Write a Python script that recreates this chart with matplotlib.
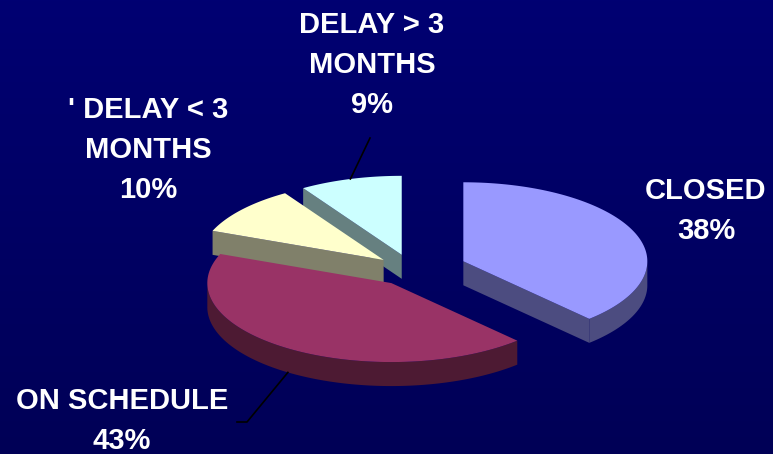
import numpy as np
import matplotlib.pyplot as plt
from matplotlib.patches import Polygon
from matplotlib.colors import LinearSegmentedColormap

# --- chart data ---
labels = ['CLOSED', 'ON SCHEDULE', "' DELAY < 3\nMONTHS", 'DELAY > 3\nMONTHS']
shares = [38, 43, 10, 9]
top_colors = ['#9999ff', '#993366', '#ffffcc', '#ccffff']
side_colors = ['#4c4c80', '#4d1a33', '#80806a', '#668080']
explode = [0.30, 0.20, 0.20, 0.20]

# label placement (pixels) and leader line end points
label_xy = [(706, 211), (122, 421), (148, 150), (372, 65)]
leader_ends = [None, [(247, 422), (237, 422)], None, [(370, 138)]]

W, H = 773, 454
fig = plt.figure(figsize=(W / 100, H / 100), dpi=100)
ax = fig.add_axes([0, 0, 1, 1])
ax.set_xlim(0, W)
ax.set_ylim(H, 0)
ax.axis('off')

# background gradient
bg = LinearSegmentedColormap.from_list('bg', ['#000072', '#000056'])
ax.imshow(np.linspace(0, 1, 256).reshape(-1, 1), extent=[0, W, H, 0],
          cmap=bg, aspect='auto', zorder=0)

cx, cy = 412, 270
rx, ry, depth = 184, 79, 24


def pt(x0, y0, deg):
    r = np.radians(deg)
    return x0 + rx * np.cos(r), y0 - ry * np.sin(r)


slices = []
start = 90.0
for i, s in enumerate(shares):
    a2 = start
    a1 = start - s * 3.6
    start = a1
    mid = np.radians((a1 + a2) / 2)
    x0 = cx + explode[i] * rx * np.cos(mid)
    y0 = cy - explode[i] * ry * np.sin(mid)
    slices.append((i, a1, a2, x0, y0))

for i, a1, a2, x0, y0 in sorted(slices, key=lambda t: t[4]):
    z = 2 + y0 / 1000
    th = np.linspace(a1, a2, 300)
    xs, ys = pt(x0, y0, th)
    # outer wall (front half only)
    front = np.sin(np.radians(th)) < 0
    if front.sum() > 1:
        fx, fy = xs[front], ys[front]
        poly = np.column_stack([np.r_[fx, fx[::-1]], np.r_[fy, fy[::-1] + depth]])
        ax.add_patch(Polygon(poly, closed=True, fc=side_colors[i], ec='none', zorder=z))
    # radial walls
    for a, vis in ((a1, np.cos(np.radians(a1)) > 0), (a2, np.cos(np.radians(a2)) < 0)):
        if vis:
            ex, ey = pt(x0, y0, a)
            quad = [(x0, y0), (ex, ey), (ex, ey + depth), (x0, y0 + depth)]
            ax.add_patch(Polygon(quad, closed=True, fc=side_colors[i], ec='none', zorder=z))
    # top face
    top = np.column_stack([np.r_[x0, xs], np.r_[y0, ys]])
    ax.add_patch(Polygon(top, closed=True, fc=top_colors[i], ec='none', zorder=z + 0.0005))

    # leader line
    if leader_ends[i]:
        mx, my = pt(x0, y0, (a1 + a2) / 2)
        if np.sin(np.radians((a1 + a2) / 2)) < 0:
            my += depth
        lx = [mx] + [p[0] for p in leader_ends[i]]
        ly = [my] + [p[1] for p in leader_ends[i]]
        ax.plot(lx, ly, color='black', lw=1.2, zorder=5)

for i in range(len(labels)):
    ax.text(label_xy[i][0], label_xy[i][1], f'{labels[i]}\n{shares[i]}%',
            color='white', fontsize=21, fontweight='bold',
            family=['Liberation Sans', 'DejaVu Sans'],
            ha='center', va='center', linespacing=1.55, zorder=6)

fig.savefig('out.png', dpi=100)
